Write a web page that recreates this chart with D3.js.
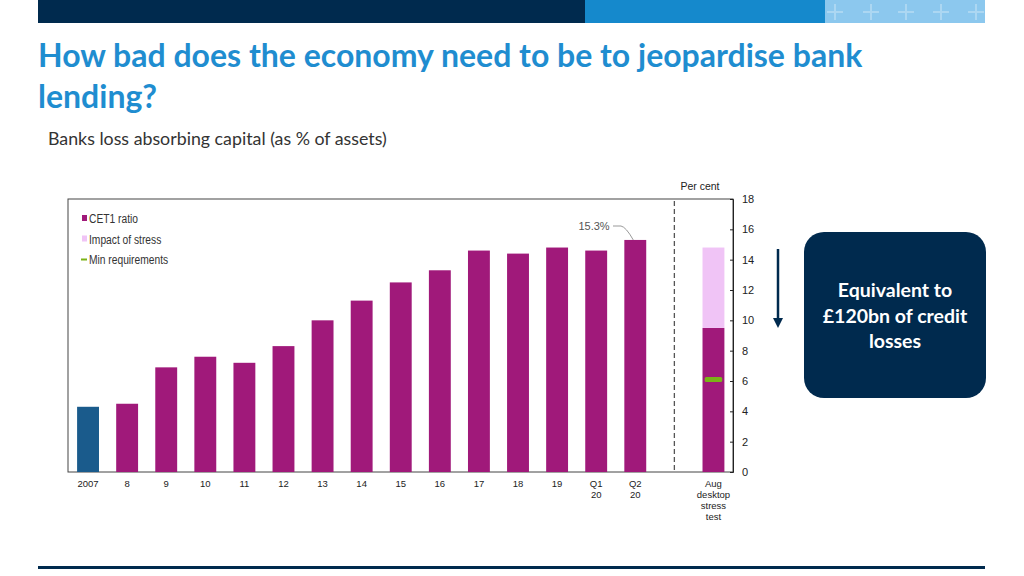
<!DOCTYPE html>
<html><head><meta charset="utf-8">
<script src="https://cdn.jsdelivr.net/npm/d3@7"></script>
<style>
body{margin:0;background:#fff;}
svg{display:block;}
</style></head>
<body><svg id="c" width="1024" height="576"></svg>
<script>
// ---- data ----
const categories = ["2007","8","9","10","11","12","13","14","15","16","17","18","19","Q1 20","Q2 20","gap","Aug desktop stress test"];
const xLabelLines = [["2007"],["8"],["9"],["10"],["11"],["12"],["13"],["14"],["15"],["16"],["17"],["18"],["19"],["Q1","20"],["Q2","20"],[],["Aug","desktop","stress","test"]];
const cet1Values = [4.3,4.5,6.9,7.6,7.2,8.3,10.0,11.3,12.5,13.3,14.6,14.4,14.8,14.6,15.3,null,9.5];
const stressImpact = [null,null,null,null,null,null,null,null,null,null,null,null,null,null,null,null,5.3];
const minRequirements = [null,null,null,null,null,null,null,null,null,null,null,null,null,null,null,null,6.1];
const yTicks = [0,2,4,6,8,10,12,14,16,18];
const legendItems = ["CET1 ratio","Impact of stress","Min requirements"];

const svg = d3.select("#c");
const C = {navy:"#002a4e", blue:"#1589cc", light:"#8cc8ee", title:"#1f8dd0", cet1:"#a0197a", first:"#1a5b8c", stress:"#f0c4f6", green:"#7ab317", txt:"#333"};

// header bar
svg.append("rect").attr("x",38).attr("y",0).attr("width",547).attr("height",23).attr("fill",C.navy);
svg.append("rect").attr("x",585).attr("y",0).attr("width",240).attr("height",23).attr("fill",C.blue);
svg.append("rect").attr("x",825).attr("y",0).attr("width",160).attr("height",23).attr("fill",C.light);
[835,871,906,941,976].forEach(cx=>{
  const g = svg.append("g").attr("stroke","#b0d9f3").attr("stroke-width",2).attr("opacity",0.9);
  g.append("line").attr("x1",cx-8).attr("x2",cx+8).attr("y1",12).attr("y2",12);
  g.append("line").attr("x1",cx).attr("x2",cx).attr("y1",4).attr("y2",20);
});

// title
const title = svg.append("text").attr("x",38).attr("fill",C.title).attr("font-family","Lato, 'Open Sans', sans-serif").attr("font-weight","bold").attr("font-size",32);
title.append("tspan").attr("x",38).attr("y",67).text("How bad does the economy need to be to jeopardise bank");
title.append("tspan").attr("x",38).attr("y",108).text("lending?");
svg.append("text").attr("x",48).attr("y",145).attr("fill",C.txt).attr("font-family","Lato, sans-serif").attr("font-size",17.8).text("Banks loss absorbing capital (as % of assets)");

// chart
const plot = {left:68, right:733, top:199, bottom:472};
const x = d3.scaleBand().domain(categories).range([plot.left+0.5, plot.right]).paddingInner(0.44).paddingOuter(0.22);
const y = d3.scaleLinear().domain([0,18]).range([plot.bottom, plot.top]);
const chartFont = "'Liberation Sans', Arial, sans-serif";

// frame
svg.append("rect").attr("x",plot.left).attr("y",plot.top).attr("width",plot.right-plot.left).attr("height",plot.bottom-plot.top)
  .attr("fill","none").attr("stroke","#444").attr("stroke-width",1);

// bars
const idx = d3.range(categories.length);
svg.append("g").selectAll("rect.cet").data(idx.filter(i=>cet1Values[i]!=null)).join("rect")
  .attr("x",i=>x(categories[i])).attr("width",x.bandwidth())
  .attr("y",i=>y(cet1Values[i])).attr("height",i=>y(0)-y(cet1Values[i]))
  .attr("fill",i=>i===0?C.first:C.cet1);
svg.append("g").selectAll("rect.st").data(idx.filter(i=>stressImpact[i]!=null)).join("rect")
  .attr("x",i=>x(categories[i])).attr("width",x.bandwidth())
  .attr("y",i=>y(cet1Values[i]+stressImpact[i])).attr("height",i=>y(cet1Values[i])-y(cet1Values[i]+stressImpact[i]))
  .attr("fill",C.stress);
svg.append("g").selectAll("rect.mr").data(idx.filter(i=>minRequirements[i]!=null)).join("rect")
  .attr("x",i=>x(categories[i])+x.bandwidth()*0.1).attr("width",x.bandwidth()*0.8)
  .attr("y",i=>y(minRequirements[i])-2.5).attr("height",5).attr("rx",1.5)
  .attr("fill",C.green);

// dashed separator
const gx = x("gap")+x.bandwidth()/2;
svg.append("line").attr("x1",gx).attr("x2",gx).attr("y1",plot.top+2).attr("y2",plot.bottom)
  .attr("stroke","#555").attr("stroke-width",1.3).attr("stroke-dasharray","5,3");

// right axis
const ax = svg.append("g").attr("transform",`translate(${plot.right},0)`)
  .call(d3.axisRight(y).tickValues(yTicks).tickSize(-3).tickPadding(9).tickFormat(d3.format("d")));
ax.select(".domain").attr("stroke","#222");
ax.selectAll(".tick line").attr("stroke","#222");
ax.selectAll("text").attr("font-family",chartFont).attr("font-size",11).attr("fill","#222");
svg.append("text").attr("x",700).attr("y",190).attr("text-anchor","middle").attr("font-family",chartFont).attr("font-size",10.5).attr("fill","#222").text("Per cent");

// x labels
const xl = svg.append("g");
idx.forEach(i=>{
  const t = xl.append("text").attr("text-anchor","middle").attr("font-family",chartFont).attr("font-size",9.5).attr("fill","#222");
  xLabelLines[i].forEach((ln,k)=>t.append("tspan").attr("x",x(categories[i])+x.bandwidth()/2).attr("y",487+k*11).text(ln));
});

// annotation 15.3%
const qi = 14;
const bx = x(categories[qi])+x.bandwidth()/2, by = y(cet1Values[qi]);
svg.append("text").attr("x",594).attr("y",230).attr("text-anchor","middle").attr("font-family",chartFont).attr("font-size",11).attr("fill","#555").text("15.3%");
svg.append("path").attr("d",`M613,226 L621,226 Q626,227 ${bx-2},${by}`).attr("fill","none").attr("stroke","#999").attr("stroke-width",1);

// legend
const legColors = [C.cet1, C.stress, C.green];
legendItems.forEach((t,k)=>{
  const ly = 219 + k*20.5;
  if(k<2) svg.append("rect").attr("x",82).attr("y",ly-4).attr("width",5).attr("height",6).attr("fill",legColors[k]);
  else svg.append("rect").attr("x",81).attr("y",ly-1.5).attr("width",6).attr("height",2).attr("fill",legColors[k]);
  svg.append("text").attr("transform",`translate(89,${ly+4}) scale(0.82,1)`).attr("font-family",chartFont).attr("font-size",12.5).attr("fill","#333").text(t);
});

// arrow
svg.append("defs").append("marker").attr("id","ah").attr("viewBox","0 0 10 10").attr("refX",5).attr("refY",5)
  .attr("markerWidth",4).attr("markerHeight",4).attr("orient","auto")
  .append("path").attr("d","M0,0 L10,5 L0,10 Z").attr("fill",C.navy);
svg.append("line").attr("x1",778).attr("x2",778).attr("y1",249).attr("y2",323).attr("stroke",C.navy).attr("stroke-width",2.5).attr("marker-end","url(#ah)");

// box
svg.append("rect").attr("x",804).attr("y",232).attr("width",182).attr("height",166).attr("rx",20).attr("fill",C.navy);
const bt = svg.append("text").attr("text-anchor","middle").attr("fill","#fff").attr("font-family","Lato, sans-serif").attr("font-weight","bold").attr("font-size",19.5);
["Equivalent to","£120bn of credit","losses"].forEach((s,k)=>bt.append("tspan").attr("x",895).attr("y",297+k*25.5).text(s));

// bottom line
svg.append("rect").attr("x",38).attr("y",566).attr("width",947).attr("height",3).attr("fill",C.navy);
</script></body></html>
